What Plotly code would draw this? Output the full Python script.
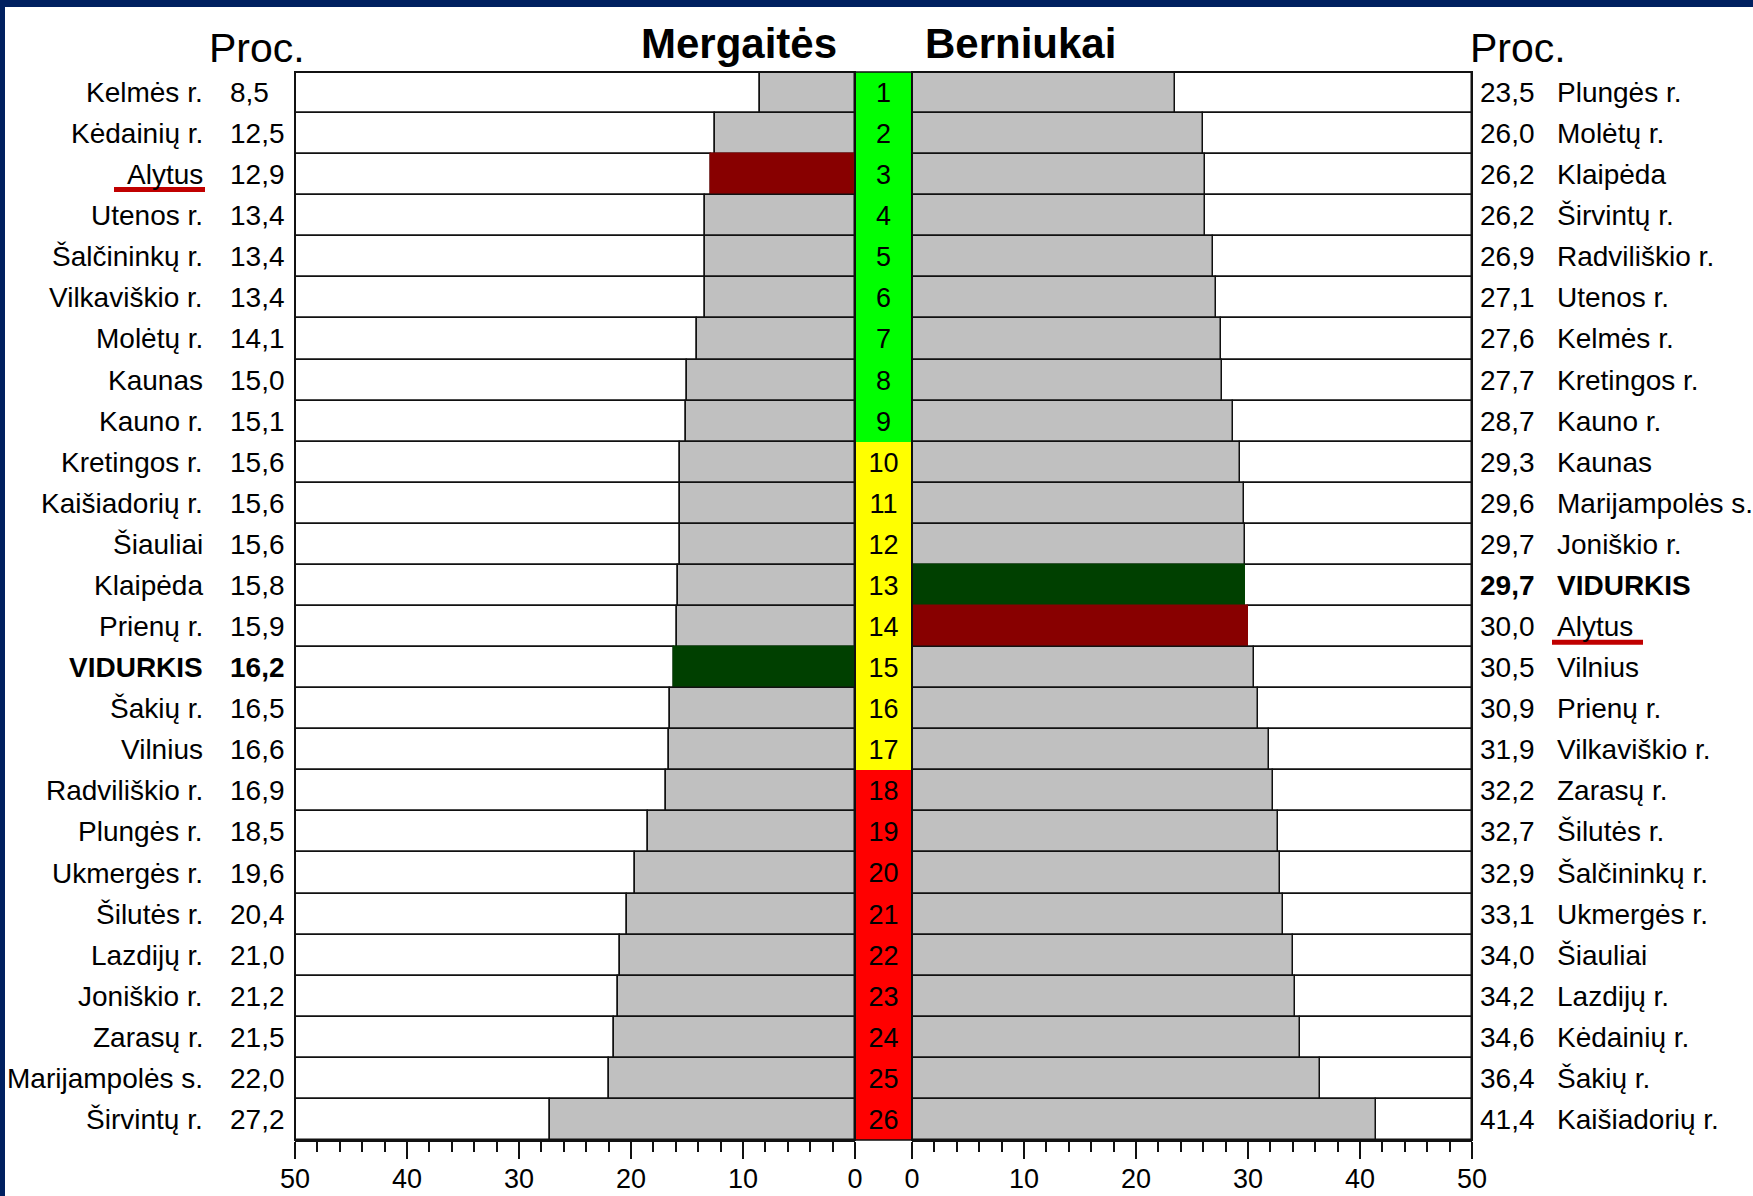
import plotly.graph_objects as go

# ---------------- data ----------------
ranks = list(range(1, 27))

girls_names = ["Kelmės r.", "Kėdainių r.", "Alytus", "Utenos r.", "Šalčininkų r.",
               "Vilkaviškio r.", "Molėtų r.", "Kaunas", "Kauno r.", "Kretingos r.",
               "Kaišiadorių r.", "Šiauliai", "Klaipėda", "Prienų r.", "VIDURKIS",
               "Šakių r.", "Vilnius", "Radviliškio r.", "Plungės r.", "Ukmergės r.",
               "Šilutės r.", "Lazdijų r.", "Joniškio r.", "Zarasų r.", "Marijampolės s.",
               "Širvintų r."]
girls_vals = [8.5, 12.5, 12.9, 13.4, 13.4, 13.4, 14.1, 15.0, 15.1, 15.6, 15.6, 15.6, 15.8,
              15.9, 16.2, 16.5, 16.6, 16.9, 18.5, 19.6, 20.4, 21.0, 21.2, 21.5, 22.0, 27.2]

boys_names = ["Plungės r.", "Molėtų r.", "Klaipėda", "Širvintų r.", "Radviliškio r.",
              "Utenos r.", "Kelmės r.", "Kretingos r.", "Kauno r.", "Kaunas",
              "Marijampolės s.", "Joniškio r.", "VIDURKIS", "Alytus", "Vilnius",
              "Prienų r.", "Vilkaviškio r.", "Zarasų r.", "Šilutės r.", "Šalčininkų r.",
              "Ukmergės r.", "Šiauliai", "Lazdijų r.", "Kėdainių r.", "Šakių r.",
              "Kaišiadorių r."]
boys_vals = [23.5, 26.0, 26.2, 26.2, 26.9, 27.1, 27.6, 27.7, 28.7, 29.3, 29.6, 29.7, 29.7,
             30.0, 30.5, 30.9, 31.9, 32.2, 32.7, 32.9, 33.1, 34.0, 34.2, 34.6, 36.4, 41.4]

axis_max = 50
tick_vals = [0, 10, 20, 30, 40, 50]
minor_tick_vals = list(range(0, 51, 2))

# ---------------- styling ----------------
W, H = 1753, 1196
FONT = "Arial, Liberation Sans, sans-serif"
GRAY = "#C0C0C0"
HL_RED = "#880000"
HL_GREEN = "#004000"
LINE = "#111111"


def px_x(p):
    return p / W


def px_y(p):
    return 1 - p / H


top_px, bot_px = 72, 1140
left_dom = [px_x(295), px_x(855)]
mid_dom = [px_x(855), px_x(912)]
right_dom = [px_x(912), px_x(1472)]
y_dom = [px_y(bot_px), px_y(top_px)]


def bar_color(name):
    if name == "Alytus":
        return HL_RED
    if name == "VIDURKIS":
        return HL_GREEN
    return GRAY


def line_color(name):
    c = bar_color(name)
    return LINE if c == GRAY else c


def rank_color(r):
    if r <= 9:
        return "#00FF00"
    if r <= 17:
        return "#FFFF00"
    return "#FF0000"


def fmt(v):
    return f"{v:.1f}".replace(".", ",")


fig = go.Figure()

# white remainder bars (value -> 50)
fig.add_trace(go.Bar(
    y=ranks, x=[axis_max - v for v in girls_vals], base=girls_vals, orientation="h",
    xaxis="x", yaxis="y", marker=dict(color="white", line=dict(color=LINE, width=1.5)),
    hoverinfo="skip", showlegend=False))
fig.add_trace(go.Bar(
    y=ranks, x=[axis_max - v for v in boys_vals], base=boys_vals, orientation="h",
    xaxis="x3", yaxis="y", marker=dict(color="white", line=dict(color=LINE, width=1.5)),
    hoverinfo="skip", showlegend=False))

# value bars
fig.add_trace(go.Bar(
    y=ranks, x=girls_vals, base=0, orientation="h", xaxis="x", yaxis="y",
    marker=dict(color=[bar_color(n) for n in girls_names],
                line=dict(color=[line_color(n) for n in girls_names], width=1.5)),
    showlegend=False))
fig.add_trace(go.Bar(
    y=ranks, x=boys_vals, base=0, orientation="h", xaxis="x3", yaxis="y",
    marker=dict(color=[bar_color(n) for n in boys_names],
                line=dict(color=[line_color(n) for n in boys_names], width=1.5)),
    showlegend=False))

# central rank column
fig.add_trace(go.Bar(
    y=ranks, x=[1] * len(ranks), orientation="h", xaxis="x2", yaxis="y",
    marker=dict(color=[rank_color(r) for r in ranks], line=dict(width=0)),
    text=[str(r) for r in ranks], textposition="inside", insidetextanchor="middle",
    textangle=0, constraintext="none",
    textfont=dict(family=FONT, size=27, color="black"),
    hoverinfo="skip", showlegend=False))

bottom_axis = dict(
    showgrid=False, zeroline=False, showline=True, linecolor=LINE, linewidth=2,
    ticks="outside", ticklen=17, tickwidth=2, tickcolor=LINE,
    tickmode="array", tickvals=tick_vals, ticktext=[str(t) for t in tick_vals],
    tickfont=dict(family=FONT, size=27, color="black"),
    ticklabelstandoff=-3,
    minor=dict(tickmode="array", tickvals=minor_tick_vals, ticks="outside",
               ticklen=10, tickwidth=1.5, tickcolor=LINE),
    anchor="y", fixedrange=True, automargin=False,
)

fig.update_layout(
    width=W, height=H, autosize=False,
    margin=dict(l=0, r=0, t=0, b=0),
    paper_bgcolor="white", plot_bgcolor="white",
    barmode="overlay", bargap=0,
    font=dict(family=FONT, color="black"),
    xaxis=dict(domain=left_dom, range=[axis_max, 0], **bottom_axis),
    xaxis2=dict(domain=mid_dom, range=[0, 1], showgrid=False, zeroline=False,
                showticklabels=False, showline=False, ticks="", anchor="y", fixedrange=True),
    xaxis3=dict(domain=right_dom, range=[0, axis_max], **bottom_axis),
    yaxis=dict(domain=y_dom, range=[26.5, 0.5], showgrid=False, zeroline=False,
               showticklabels=False, showline=False, ticks="", fixedrange=True),
)

annotations = []
LBL = 28
for r, n, v in zip(ranks, girls_names, girls_vals):
    bold = n == "VIDURKIS"
    annotations.append(dict(x=px_x(205), y=r, xref="paper", yref="y", xanchor="right",
                            yanchor="middle", showarrow=False,
                            text=f"<b>{n}</b>" if bold else n,
                            font=dict(family=FONT, size=LBL, color="black")))
    annotations.append(dict(x=px_x(228), y=r, xref="paper", yref="y", xanchor="left",
                            yanchor="middle", showarrow=False,
                            text=f"<b>{fmt(v)}</b>" if bold else fmt(v),
                            font=dict(family=FONT, size=LBL, color="black")))
for r, n, v in zip(ranks, boys_names, boys_vals):
    bold = n == "VIDURKIS"
    annotations.append(dict(x=px_x(1478), y=r, xref="paper", yref="y", xanchor="left",
                            yanchor="middle", showarrow=False,
                            text=f"<b>{fmt(v)}</b>" if bold else fmt(v),
                            font=dict(family=FONT, size=LBL, color="black")))
    annotations.append(dict(x=px_x(1555), y=r, xref="paper", yref="y", xanchor="left",
                            yanchor="middle", showarrow=False,
                            text=f"<b>{n}</b>" if bold else n,
                            font=dict(family=FONT, size=LBL, color="black")))

# headers
annotations += [
    dict(x=px_x(207), y=px_y(48), xref="paper", yref="paper", xanchor="left", yanchor="middle",
         showarrow=False, text="Proc.", font=dict(family=FONT, size=41, color="black")),
    dict(x=px_x(1468), y=px_y(48), xref="paper", yref="paper", xanchor="left", yanchor="middle",
         showarrow=False, text="Proc.", font=dict(family=FONT, size=41, color="black")),
    dict(x=px_x(739), y=px_y(44), xref="paper", yref="paper", xanchor="center", yanchor="middle",
         showarrow=False, text="<b>Mergaitės</b>", font=dict(family=FONT, size=42, color="black")),
    dict(x=px_x(1020), y=px_y(44), xref="paper", yref="paper", xanchor="center", yanchor="middle",
         showarrow=False, text="<b>Berniukai</b>", font=dict(family=FONT, size=42, color="black")),
]
fig.update_layout(annotations=annotations)

shapes = [
    # navy frame strips
    dict(type="rect", xref="paper", yref="paper", x0=0, x1=1, y0=px_y(7), y1=1,
         fillcolor="#002060", line=dict(width=0), layer="above"),
    dict(type="rect", xref="paper", yref="paper", x0=0, x1=px_x(5), y0=0, y1=1,
         fillcolor="#002060", line=dict(width=0), layer="above"),
    # panel frames
    dict(type="rect", xref="paper", yref="paper", x0=left_dom[0], x1=left_dom[1],
         y0=y_dom[0], y1=y_dom[1], line=dict(color=LINE, width=2), layer="above"),
    dict(type="rect", xref="paper", yref="paper", x0=right_dom[0], x1=right_dom[1],
         y0=y_dom[0], y1=y_dom[1], line=dict(color=LINE, width=2), layer="above"),
    dict(type="rect", xref="paper", yref="paper", x0=mid_dom[0], x1=mid_dom[1],
         y0=y_dom[0], y1=y_dom[1], line=dict(color=LINE, width=1.5), layer="above"),
]
# red underline for Alytus
g_r = ranks[girls_names.index("Alytus")]
b_r = ranks[boys_names.index("Alytus")]
shapes.append(dict(type="line", xref="paper", yref="y", x0=px_x(114), x1=px_x(205),
                   y0=g_r + 0.36, y1=g_r + 0.36, line=dict(color="#C00000", width=5)))
shapes.append(dict(type="line", xref="paper", yref="y", x0=px_x(1552), x1=px_x(1643),
                   y0=b_r + 0.38, y1=b_r + 0.38, line=dict(color="#C00000", width=5)))
fig.update_layout(shapes=shapes)

fig.write_html("out.html", config={"displayModeBar": False},
               post_script="document.body.style.margin='0';document.body.style.overflow='hidden';")
